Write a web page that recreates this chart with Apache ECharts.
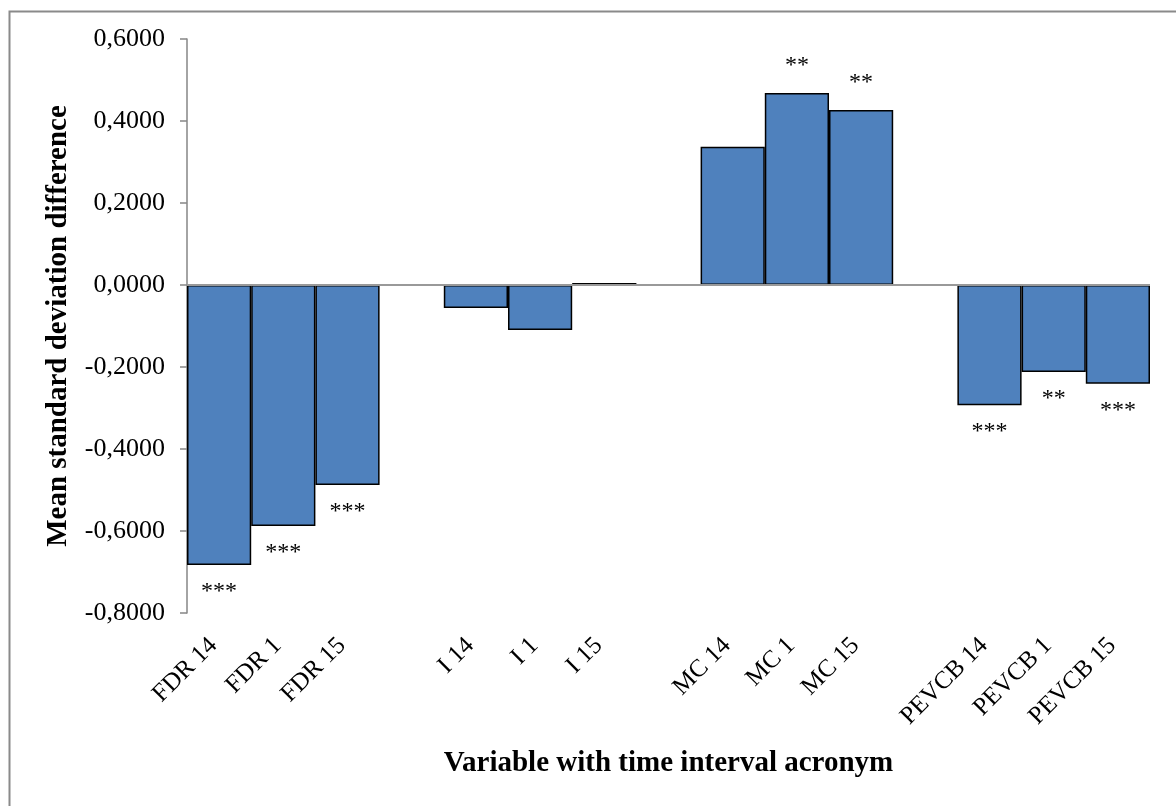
<!DOCTYPE html>
<html>
<head>
<meta charset="utf-8">
<script src="https://cdn.jsdelivr.net/npm/echarts@6/dist/echarts.min.js"></script>
<style>
html,body{margin:0;padding:0;background:#fff;}
#chart{width:1176px;height:806px;}
</style>
</head>
<body>
<div id="chart"></div>
<script>
const categories = ['FDR 14','FDR 1','FDR 15','','I 14','I 1','I 15','','MC 14','MC 1','MC 15','','PEVCB 14','PEVCB 1','PEVCB 15'];
const values = [-0.683,-0.588,-0.488,null,-0.056,-0.110,0.005,null,0.337,0.468,0.427,null,-0.293,-0.212,-0.241];
const significance = ['***','***','***','','','','','','','**','**','','***','**','***'];
const yTicks = {min:-0.8, max:0.6, interval:0.2};

const FONT = "'Liberation Serif','Times New Roman',serif";
const chart = echarts.init(document.getElementById('chart'), null, {renderer:'canvas'});

const seriesData = values.map((v, i) => ({
  value: v,
  label: {
    show: !!significance[i],
    formatter: significance[i],
    position: (v !== null && v < 0) ? 'bottom' : 'top'
  }
}));

chart.setOption({
  animation: false,
  backgroundColor: '#fff',
  graphic: [{
    type: 'rect', left: 7, top: 9, z: -1,
    shape: {width: 1300, height: 900},
    style: {fill: 'none', stroke: '#8a8a8a', lineWidth: 2}
  }],
  grid: {left: 187, right: 26, top: 39, bottom: 193},
  xAxis: {
    type: 'category',
    data: categories,
    axisLine: {show: false},
    axisTick: {show: false},
    axisLabel: {rotate: 45, interval: 0, fontFamily: FONT, fontSize: 25, color: '#000', margin: 23, padding: [0, 8, 0, 0]},
    name: 'Variable with time interval acronym',
    nameLocation: 'middle',
    nameGap: 136,
    nameTextStyle: {fontFamily: FONT, fontSize: 29, fontWeight: 'bold', color: '#000'}
  },
  yAxis: {
    type: 'value',
    min: yTicks.min, max: yTicks.max, interval: yTicks.interval,
    axisLine: {show: true, lineStyle: {color: '#868686', width: 1.5}},
    axisTick: {show: true, inside: false, length: 7, lineStyle: {color: '#868686', width: 1.5}},
    splitLine: {show: false},
    axisLabel: {
      fontFamily: FONT, fontSize: 26, color: '#000', margin: 22,
      formatter: v => (Math.abs(v) < 1e-9 ? 0 : v).toFixed(4).replace('.', ',')
    },
    name: 'Mean standard deviation difference',
    nameLocation: 'middle',
    nameGap: 114,
    nameTextStyle: {fontFamily: FONT, fontSize: 29, fontWeight: 'bold', color: '#000'}
  },
  series: [{
    type: 'bar',
    data: seriesData,
    barCategoryGap: '0%',
    itemStyle: {color: '#4F81BD', borderColor: '#000', borderWidth: 1.5},
    label: {fontFamily: FONT, fontSize: 24, color: '#000', distance: 15},
    markLine: {
      silent: true,
      symbol: 'none',
      label: {show: false},
      lineStyle: {color: '#999', width: 2, type: 'solid'},
      data: [{yAxis: 0}],
      z: 5
    }
  }]
});
</script>
</body>
</html>
